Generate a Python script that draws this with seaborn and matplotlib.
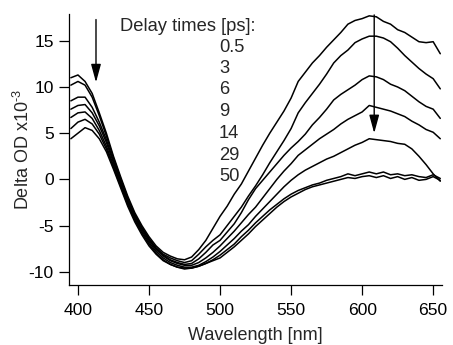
import numpy as np
import pandas as pd
import matplotlib
matplotlib.use("Agg")
import matplotlib.pyplot as plt
import seaborn as sns

wavelength = [395, 400, 405, 410, 415, 420, 425, 430, 435, 440, 445, 450, 455, 460, 465,
              470, 475, 480, 485, 490, 495, 500, 505, 510, 515, 520, 525, 530, 535, 540,
              545, 550, 555, 560, 565, 570, 575, 580, 585, 590, 595, 600, 605, 610, 615,
              620, 625, 630, 635, 640, 645, 650, 655]

delay_labels = ["0.5", "3", "6", "9", "14", "29", "50"]

od_05ps = [11.0, 11.3, 10.6, 9.3, 7.2, 5.0, 2.5, 0.3, -1.8, -3.6, -5.0, -6.2, -7.2, -7.9, -8.3,
           -8.6, -8.7, -8.4, -7.6, -6.6, -5.3, -4.0, -2.9, -1.6, -0.5, 0.9, 2.3, 3.7, 5.0, 6.2,
           7.4, 8.8, 10.6, 11.6, 12.6, 13.4, 14.3, 15.1, 15.9, 16.8, 17.2, 17.4, 17.7, 17.6, 17.1,
           16.8, 16.2, 15.9, 15.4, 14.9, 14.8, 14.9, 13.6]
od_3ps = [10.2, 10.6, 10.2, 8.9, 6.9, 4.7, 2.3, 0.1, -2.0, -3.8, -5.2, -6.4, -7.4, -8.1, -8.5,
          -8.8, -9.0, -8.8, -8.1, -7.3, -6.6, -6.0, -5.0, -4.0, -3.0, -1.8, -0.7, 0.5, 1.8, 3.0,
          4.2, 5.5, 7.2, 8.3, 9.3, 10.3, 11.4, 12.6, 13.4, 14.0, 14.8, 15.2, 15.5, 15.5, 15.3,
          14.9, 14.2, 13.4, 12.7, 12.0, 11.4, 10.9, 9.8]
od_6ps = [8.5, 8.9, 8.9, 7.8, 6.2, 4.3, 2.0, -0.1, -2.1, -3.9, -5.3, -6.5, -7.5, -8.2, -8.7,
          -9.0, -9.2, -9.1, -8.6, -7.9, -7.1, -6.6, -5.7, -4.8, -3.6, -2.2, -1.0, -0.1, 0.8, 1.7,
          2.6, 3.4, 4.1, 4.9, 5.9, 6.7, 7.6, 8.6, 9.2, 9.7, 10.2, 10.8, 11.2, 11.1, 10.8,
          10.3, 10.0, 9.6, 9.0, 8.4, 7.9, 7.6, 6.6]
od_9ps = [7.6, 8.0, 8.1, 7.2, 5.8, 4.0, 1.8, -0.3, -2.3, -4.0, -5.4, -6.6, -7.6, -8.3, -8.8,
          -9.1, -9.3, -9.3, -9.0, -8.5, -7.9, -7.2, -6.4, -5.6, -4.7, -3.8, -3.0, -2.0, -1.0, 0.0,
          0.9, 1.7, 2.6, 3.2, 3.8, 4.4, 4.9, 5.4, 6.0, 6.5, 6.9, 7.3, 8.0, 7.8, 7.6,
          7.4, 7.1, 6.8, 6.3, 5.9, 5.4, 5.1, 4.4]
od_14ps = [6.7, 7.2, 7.3, 6.6, 5.3, 3.6, 1.5, -0.5, -2.5, -4.2, -5.6, -6.8, -7.8, -8.5, -9.0,
           -9.3, -9.5, -9.5, -9.3, -8.9, -8.4, -7.8, -7.1, -6.4, -5.6, -4.9, -4.0, -3.2, -2.4, -1.6,
           -0.8, -0.1, 0.5, 1.0, 1.4, 1.8, 2.2, 2.5, 2.9, 3.3, 3.7, 4.0, 4.4, 4.3, 4.2,
           4.1, 3.9, 3.8, 3.3, 2.5, 1.6, 0.6, -0.2]
od_29ps = [5.5, 6.2, 6.5, 6.0, 4.9, 3.3, 1.3, -0.7, -2.7, -4.4, -5.8, -7.0, -8.0, -8.7, -9.2,
           -9.5, -9.7, -9.6, -9.4, -9.1, -8.7, -8.2, -7.6, -7.0, -6.2, -5.5, -4.7, -4.0, -3.3, -2.7,
           -2.1, -1.6, -1.2, -0.9, -0.6, -0.4, -0.1, 0.1, 0.3, 0.6, 0.4, 0.6, 0.8, 0.6, 0.8,
           0.5, 0.6, 0.4, 0.5, 0.3, 0.2, 0.5, 0.1]
od_50ps = [4.4, 5.0, 5.6, 5.3, 4.4, 3.0, 1.1, -0.9, -2.9, -4.6, -6.0, -7.2, -8.1, -8.8, -9.2,
           -9.5, -9.6, -9.6, -9.4, -9.1, -8.8, -8.5, -7.9, -7.3, -6.6, -5.9, -5.1, -4.4, -3.7, -3.0,
           -2.4, -1.9, -1.5, -1.1, -0.8, -0.6, -0.4, -0.2, 0.0, 0.2, 0.1, 0.3, 0.4, 0.2, 0.4,
           0.1, 0.3, 0.0, 0.2, -0.1, 0.0, 0.3, -0.1]

series = [od_05ps, od_3ps, od_6ps, od_9ps, od_14ps, od_29ps, od_50ps]

# arrows: (x, y_start, y_end)
arrow_left = [412.7, 17.3, 10.5]
arrow_right = [608.5, 17.8, 5.0]

rows = []
for lab, vals in zip(delay_labels, series):
    for w, v in zip(wavelength, vals):
        rows.append({"wl": w, "od": v, "delay": lab})
df = pd.DataFrame(rows)

sns.set_style("ticks")
plt.rcParams["font.family"] = ["Liberation Sans", "DejaVu Sans"]
plt.rcParams["mathtext.fontset"] = "custom"
plt.rcParams["mathtext.rm"] = "Liberation Sans"
plt.rcParams["axes.unicode_minus"] = False

fig = plt.figure(figsize=(4.53, 3.45), dpi=100)
ax = fig.add_axes([69 / 453, 1 - 285 / 345, 372.7 / 453, 271 / 345])

sns.lineplot(data=df, x="wl", y="od", units="delay", estimator=None,
             color="black", linewidth=1.1, ax=ax, legend=False, sort=False)

ax.set_xlim(393.7, 656)
ax.set_ylim(-11.43, 17.9)
ax.set_xticks([400, 450, 500, 550, 600, 650])
ax.set_yticks([-10, -5, 0, 5, 10, 15])
for s in ["top", "right"]:
    ax.spines[s].set_visible(False)
for s in ["left", "bottom"]:
    ax.spines[s].set_linewidth(0.9)
    ax.spines[s].set_color("black")
ax.tick_params(axis="both", direction="out", length=7, width=0.9, color="black",
               labelsize=12.6, labelcolor="black")
ax.tick_params(axis="y", pad=4)
ax.tick_params(axis="x", pad=6)

ax.set_xlabel("Wavelength [nm]", fontsize=13)
ax.xaxis.set_label_coords(0.5, -0.155)
ax.set_ylabel(r"Delta OD x10$^{\text{-3}}$", fontsize=13)
ax.yaxis.set_label_coords(-0.097, 0.5)

ax.text(0.1368, 0.9557, "Delay times [ps]:", transform=ax.transAxes,
        ha="left", va="center", fontsize=13.2)
label_y = [0.8782, 0.7996, 0.7221, 0.6395, 0.5598, 0.4797, 0.3996]
for lab, yy in zip(delay_labels, label_y):
    ax.text(0.4025, yy, lab, transform=ax.transAxes, ha="left", va="center", fontsize=13.2)

for a in (arrow_left, arrow_right):
    ax.annotate("", xy=(a[0], a[2]), xytext=(a[0], a[1]),
                arrowprops=dict(arrowstyle="-|>,head_length=0.55,head_width=0.15",
                                mutation_scale=20, lw=1.0, color="black",
                                shrinkA=0, shrinkB=0))

fig.savefig("out.png", dpi=100)
